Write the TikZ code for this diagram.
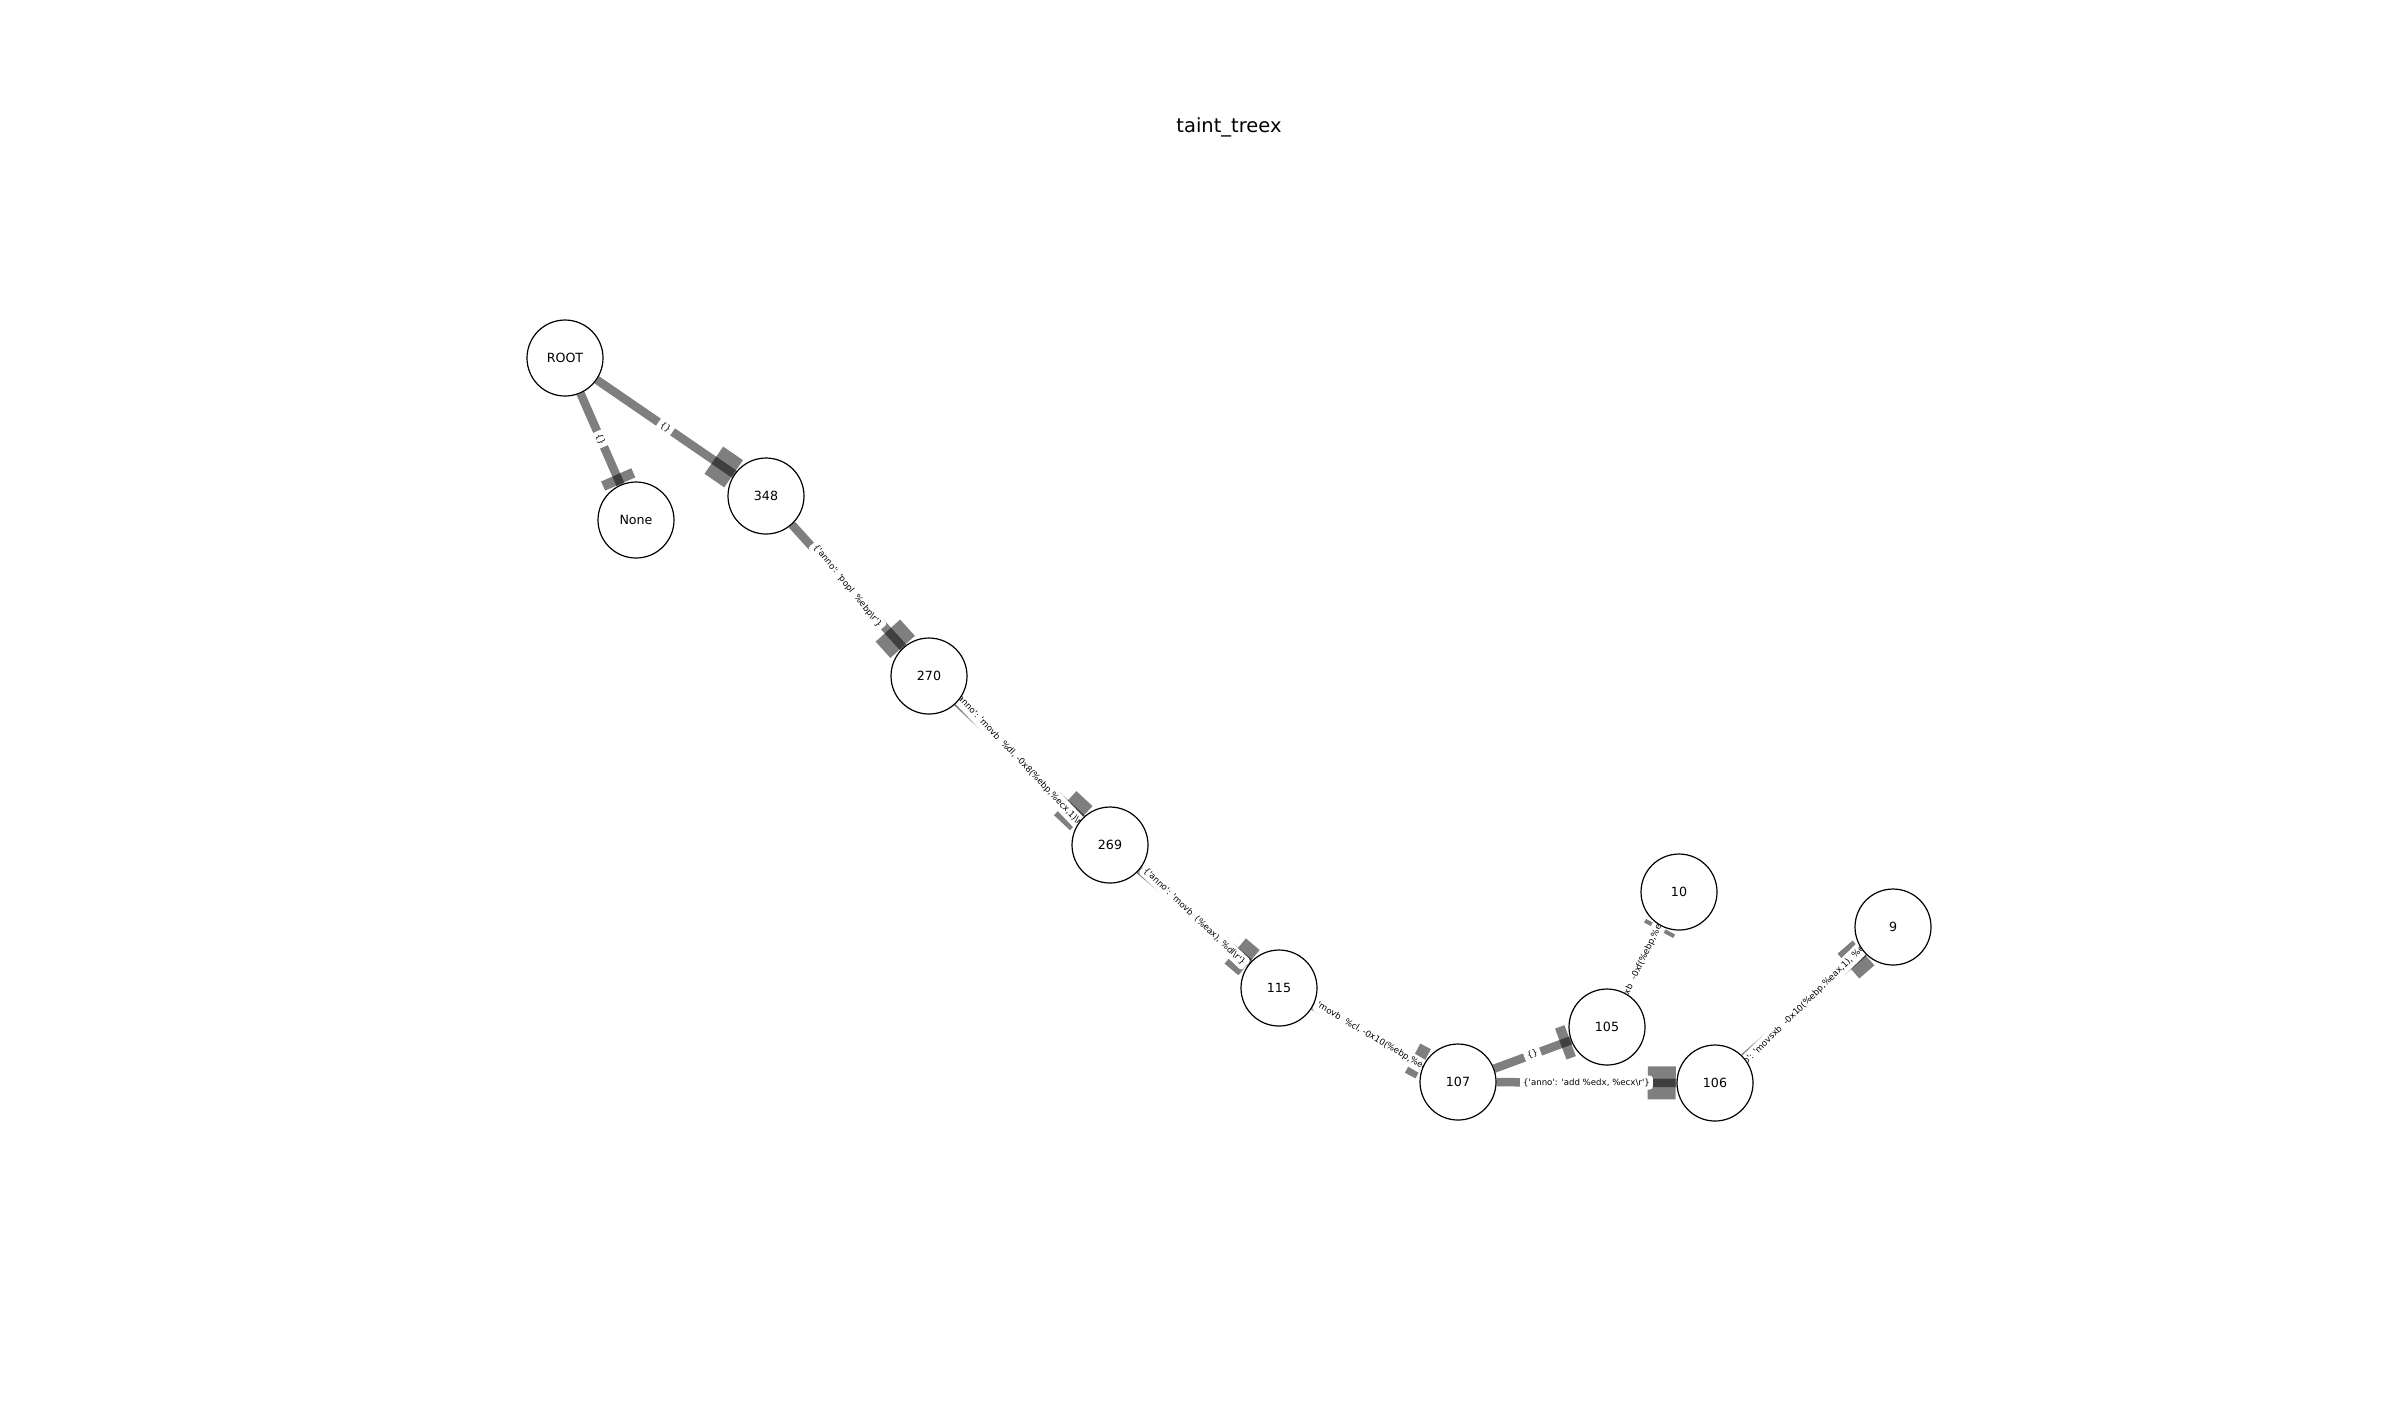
\documentclass[tikz,border=0pt]{standalone}
\usepackage{fontspec}
\setmainfont{DejaVu Sans}
\usetikzlibrary{backgrounds}
\newcommand{\sq}{\textquotesingle}
\newcommand{\bsl}{\textbackslash}

\begin{document}
\begin{tikzpicture}[x=0.1mm, y=-0.1mm,
    vert/.style={circle, draw=black, line width=0.12mm, fill=white,
                 minimum size=7.6mm, inner sep=0pt,
                 font=\fontsize{3.6}{4}\selectfont},
    edgeline/.style={draw=black, draw opacity=0.5, line width=0.85mm},
    headbox/.style={fill=black, fill opacity=0.5, minimum height=3.3mm,
                    inner sep=0pt, sloped, allow upside down, anchor=west},
    elab/.style={fill=white, rounded corners=0.3mm, inner sep=0.3mm,
                 font=\fontsize{2.45}{3}\selectfont},
  ]
  \useasboundingbox (0,0) rectangle (2400,1415);
  \node[font=\fontsize{5.55}{6.5}\selectfont] (title) at (1229,127) {taint\_treex};

  % nodes
  \node[vert] (ROOT) at (565,358)  {ROOT};
  \node[vert] (None) at (636,520)  {None};
  \node[vert] (348)  at (766,496)  {348};
  \node[vert] (270)  at (929,676)  {270};
  \node[vert] (269)  at (1110,845) {269};
  \node[vert] (115)  at (1279,988) {115};
  \node[vert] (107)  at (1458,1082) {107};
  \node[vert] (105)  at (1607,1027) {105};
  \node[vert] (10)   at (1679,892) {10};
  \node[vert] (106)  at (1715,1083) {106};
  \node[vert] (9)    at (1893,927) {9};

  \begin{scope}[on background layer]
    % edges with box heads at the target end
    \foreach \s/\t/\hl in {ROOT/None/1.0, ROOT/348/2.4, 348/270/2.2, 270/269/2.2,
                           269/115/1.8, 115/107/1.2, 107/105/1.0, 105/10/0.4,
                           107/106/2.8, 106/9/2.0}{
      \draw[edgeline] (\s) -- (\t);
      \path (\t) -- (\s) node[headbox, pos=0, minimum width=\hl mm] {};
    }

    % edge labels
    \path (ROOT) -- (None) node[elab, midway, rotate=-66.3] {\{\}};
    \path (ROOT) -- (348)  node[elab, midway, rotate=-34.5] {\{\}};
    \path (348) -- (270) node[elab, midway, rotate=-51.0]
      {\{\sq anno\sq: \sq popl\ \ \%ebp\bsl r\sq\}};
    \path (270) -- (269) node[elab, midway, rotate=-46.3]
      {\{\sq anno\sq: \sq movb\ \ \%dl, -0x8(\%ebp,\%ecx,1)\bsl r\sq\}};
    \path (269) -- (115) node[elab, midway, rotate=-43.5]
      {\{\sq anno\sq: \sq movb\ \ (\%eax), \%dl\bsl r\sq\}};
    \path (115) -- (107) node[elab, pos=0.53, rotate=-30.5]
      {\sq movb\ \ \%cl, -0x10(\%ebp,\%ec};
    \path (107) -- (105) node[elab, midway, rotate=20.3] {\{\}};
    \path (107) -- (106) node[elab, midway]
      {\{\sq anno\sq: \sq add \%edx, \%ecx\bsl r\sq\}};
    \path (105) -- (10) node[elab, midway, rotate=64.5]
      {xb\ \ -0xf(\%ebp,\%e};
    \path (106) -- (9) node[elab, midway, rotate=44.5]
      {\{\sq anno\sq: \sq movsxb\ \ -0x10(\%ebp,\%eax,1), \%ecx\bsl r\sq\}};
  \end{scope}
\end{tikzpicture}
\end{document}
